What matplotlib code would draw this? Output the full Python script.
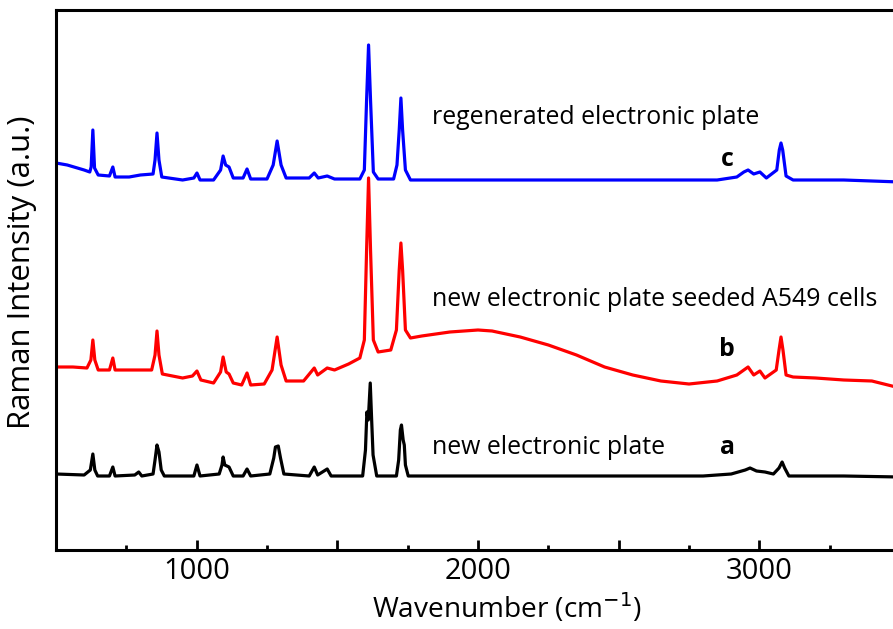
import matplotlib
matplotlib.use("Agg")
import matplotlib.pyplot as plt
from matplotlib.ticker import FixedLocator

plt.rcParams['font.family'] = ['Open Sans', 'DejaVu Sans']

# Spectrum c (regenerated electronic plate) - wavenumber, intensity (a.u.)
wn_c = [500, 540, 600, 620, 625, 631, 637, 650, 690, 702, 710, 760, 800, 845, 852, 859, 866, 876,
        950, 990, 1001, 1012, 1060, 1085, 1094, 1103, 1115, 1130, 1165, 1179, 1192, 1250, 1272, 1286,
        1300, 1318, 1400, 1418, 1432, 1464, 1490, 1580, 1596, 1604, 1611, 1618, 1628, 1645, 1700,
        1712, 1720, 1726, 1732, 1742, 1760, 2000, 2500, 2850, 2920, 2945, 2960, 2980, 3002, 3025,
        3062, 3071, 3077, 3083, 3095, 3120, 3300, 3500]
int_c = [387, 385, 380, 378, 383, 420, 382, 375, 374, 383, 373, 373, 375, 376, 390, 417, 390, 373,
         370, 372, 377, 370, 370, 380, 394, 385, 383, 372, 372, 381, 371, 371, 385, 409,
         385, 372, 372, 377, 372, 374, 371, 371, 380, 450, 505, 450, 378, 371, 371,
         385, 420, 452, 420, 380, 370, 370, 370, 370, 373, 378, 380, 376, 378, 372,
         380, 400, 407, 400, 374, 370, 370, 368]

# Spectrum b (new electronic plate seeded A549 cells)
wn_b = [500, 560, 610, 624, 631, 638, 650, 690, 702, 710, 760, 800, 840, 852, 859, 866, 878,
        950, 985, 1001, 1015, 1060, 1085, 1094, 1105, 1115, 1130, 1160, 1179, 1192, 1240, 1268,
        1286, 1300, 1318, 1380, 1418, 1430, 1464, 1490, 1540, 1580, 1596, 1604, 1611, 1618, 1628,
        1645, 1690, 1710, 1720, 1726, 1732, 1742, 1760, 1800, 1900, 2000, 2050, 2150, 2250, 2350,
        2450, 2550, 2650, 2750, 2850, 2920, 2945, 2960, 2980, 3002, 3020, 3060, 3070, 3077, 3084,
        3095, 3120, 3200, 3300, 3400, 3500]
int_b = [183, 183, 182, 190, 210, 190, 180, 180, 192, 180, 180, 180, 180, 195, 219, 195, 176,
         172, 174, 179, 170, 167, 178, 193, 178, 176, 167, 165, 177, 165, 166, 180,
         213, 185, 169, 169, 182, 175, 182, 180, 186, 192, 210, 300, 372, 300, 210,
         198, 200, 220, 280, 307, 280, 220, 212, 214, 218, 220, 219, 213, 205, 195,
         183, 175, 169, 166, 169, 175, 180, 183, 175, 179, 172, 180, 200, 213, 200,
         175, 173, 172, 170, 169, 162]

# Spectrum a (new electronic plate)
wn_a = [500, 600, 622, 631, 638, 648, 690, 702, 710, 780, 794, 805, 845, 852, 859, 866, 874, 885,
        990, 1001, 1012, 1080, 1090, 1094, 1100, 1115, 1130, 1165, 1179, 1192, 1260, 1274, 1280,
        1290, 1298, 1310, 1400, 1418, 1430, 1464, 1478, 1590, 1600, 1605, 1610, 1617, 1622, 1627,
        1640, 1710, 1718, 1724, 1728, 1734, 1738, 1742, 1752, 2000, 2800, 2900, 2950, 2967, 2990,
        3020, 3050, 3070, 3081, 3090, 3105, 3300, 3500]
int_a = [76, 75, 80, 96, 80, 74, 74, 83, 74, 75, 78, 74, 76, 90, 105, 98, 80, 74,
         74, 85, 74, 76, 85, 93, 85, 83, 74, 74, 81, 74, 76, 92, 103,
         104, 92, 76, 74, 83, 75, 81, 74, 74, 100, 138, 130, 167, 130, 95,
         74, 74, 90, 120, 125, 110, 105, 85, 74, 74, 74, 76, 80, 82, 79,
         78, 76, 82, 88, 82, 74, 74, 73]

major_ticks = [1000, 1500, 2000, 2500, 3000]
tick_labels = ['1000', '', '2000', '', '3000']
minor_ticks = [750, 1250, 1750, 2250, 2750, 3250]

W, H = 893, 629
fig = plt.figure(figsize=(W / 100, H / 100), dpi=100)
ax = fig.add_axes([56 / W, 1 - 550 / H, (900 - 56) / W, 540 / H])

ax.plot(wn_c, int_c, color='#0000ff', lw=2.3)
ax.plot(wn_b, int_b, color='#ff0000', lw=2.3)
ax.plot(wn_a, int_a, color='#000000', lw=2.3)

ax.set_xlim(500, 3500)
ax.set_ylim(0, 540)
ax.xaxis.set_major_locator(FixedLocator(major_ticks))
ax.set_xticklabels(tick_labels)
ax.xaxis.set_minor_locator(FixedLocator(minor_ticks))
ax.tick_params(axis='x', which='major', direction='in', length=7, width=2, labelsize=21, pad=5)
ax.tick_params(axis='x', which='minor', direction='in', length=3.5, width=2)
ax.set_yticks([])
for s in ax.spines.values():
    s.set_linewidth(2.2)

fig.text(507 / W, 1 - 608 / H, 'Wavenumber (cm$^{-1}$)', fontsize=20.2, ha='center', va='center')
fig.text(22 / W, 1 - 272 / H, 'Raman Intensity (a.u.)', fontsize=22.4, ha='center', va='center',
         rotation=90)

ax.text(1838, 432, 'regenerated electronic plate', fontsize=17.9, va='center', ha='left')
ax.text(1838, 250, 'new electronic plate seeded A549 cells', fontsize=17.9, va='center', ha='left')
ax.text(1838, 103, 'new electronic plate', fontsize=17.9, va='center', ha='left')
ax.text(2886, 390, 'c', fontsize=17.9, fontweight='bold', va='center', ha='center')
ax.text(2886, 200, 'b', fontsize=17.9, fontweight='bold', va='center', ha='center')
ax.text(2886, 102, 'a', fontsize=17.9, fontweight='bold', va='center', ha='center')

fig.savefig('out.png', dpi=100)
